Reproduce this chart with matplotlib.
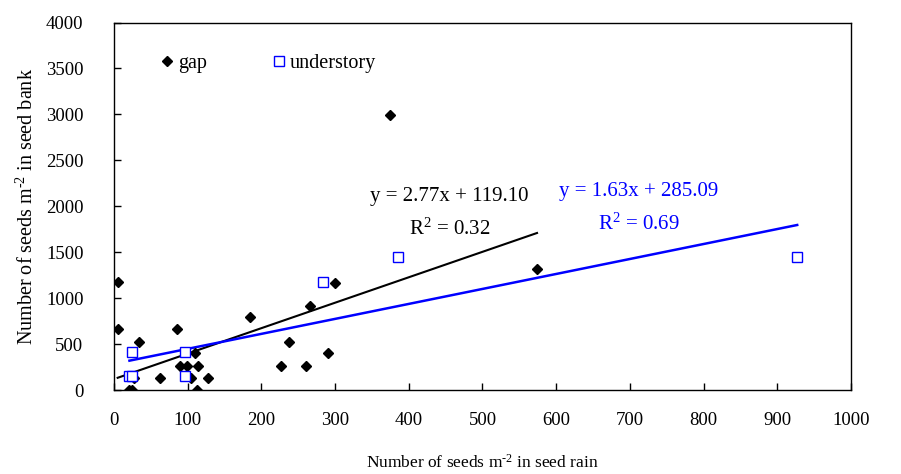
import numpy as np
import matplotlib
matplotlib.use("Agg")
import matplotlib.pyplot as plt
from matplotlib.lines import Line2D

plt.rcParams['font.family'] = ['Liberation Serif', 'DejaVu Serif']
plt.rcParams['mathtext.fontset'] = 'custom'
plt.rcParams['mathtext.rm'] = 'Liberation Serif'
plt.rcParams['mathtext.it'] = 'Liberation Serif:italic'
plt.rcParams['font.size'] = 13

# seed rain (x) vs seed bank (y)
gap_rain = [5, 5, 20, 25, 34, 27, 63, 85, 89, 99, 105, 110, 114, 112, 127,
            185, 226, 237, 261, 266, 291, 300, 375, 574]
gap_bank = [1175, 660, 0, 0, 525, 134, 134, 660, 264, 264, 134, 399, 264, 0, 134,
            790, 264, 525, 264, 916, 399, 1170, 2990, 1312]

under_rain = [21, 25, 25, 96, 96, 283, 386, 927]
under_bank = [152, 152, 410, 410, 152, 1180, 1450, 1450]

# trend lines as printed on the chart
gap_fit = (2.77, 119.10, 0.32)
under_fit = (1.63, 285.09, 0.69)

fig = plt.figure(figsize=(9.01, 4.74), dpi=100)
ax = fig.add_axes([0.1265, 0.1772, 0.818, 0.7753])

# trend lines
xg = np.array([min(gap_rain), max(gap_rain)])
ax.plot(xg, gap_fit[0] * xg + gap_fit[1], color='black', lw=1.5, zorder=2)
xu = np.array([min(under_rain), max(under_rain)])
ax.plot(xu, under_fit[0] * xu + under_fit[1], color='#0000ff', lw=1.8, zorder=2)

ax.plot(gap_rain, gap_bank, ls='none', marker='D', ms=5.2, color='black', zorder=3)
ax.plot(under_rain, under_bank, ls='none', marker='s', ms=6.5, mfc='white',
        mec='#0000ff', mew=1.0, zorder=4)

eq_size = 15
ax.text(455, 2105, 'y = %.2fx + %.2f' % gap_fit[:2], ha='center', va='center',
        fontsize=eq_size)
ax.text(455, 1745, 'R$^2$ = %.2f' % gap_fit[2], ha='center', va='center',
        fontsize=eq_size)
ax.text(712, 2160, 'y = %.2fx + %.2f' % under_fit[:2], ha='center', va='center',
        color='#0000ff', fontsize=eq_size)
ax.text(712, 1800, 'R$^2$ = %.2f' % under_fit[2], ha='center', va='center',
        color='#0000ff', fontsize=eq_size)

handles = [Line2D([], [], ls='none', marker='D', ms=5.2, color='black'),
           Line2D([], [], ls='none', marker='s', ms=6.5, mfc='white',
                  mec='#0000ff', mew=1.0)]
ax.legend(handles, ['gap', 'understory'], ncol=2, frameon=False,
          loc='center left', bbox_to_anchor=(0.063, 0.888),
          handlelength=0.7, handletextpad=0.2, columnspacing=3.2,
          borderaxespad=0, borderpad=0, prop={'size': 14.5})

ax.set_xlim(0, 1000)
ax.set_ylim(0, 4000)
ax.set_xticks(np.arange(0, 1001, 100))
ax.set_yticks(np.arange(0, 4001, 500))
ax.tick_params(direction='in', length=5, width=1, labelsize=13.5)
ax.tick_params(axis='x', pad=16)
ax.tick_params(axis='y', pad=22)
for s in ax.spines.values():
    s.set_linewidth(1.0)

ax.set_xlabel('Number of seeds m$^{\u20102}$ in seed rain', labelpad=18,
              fontsize=12.5)
ax.set_ylabel('Number of seeds m$^{\u20102}$ in seed bank', labelpad=6,
              fontsize=14.5)

fig.savefig('out.png', dpi=100)
